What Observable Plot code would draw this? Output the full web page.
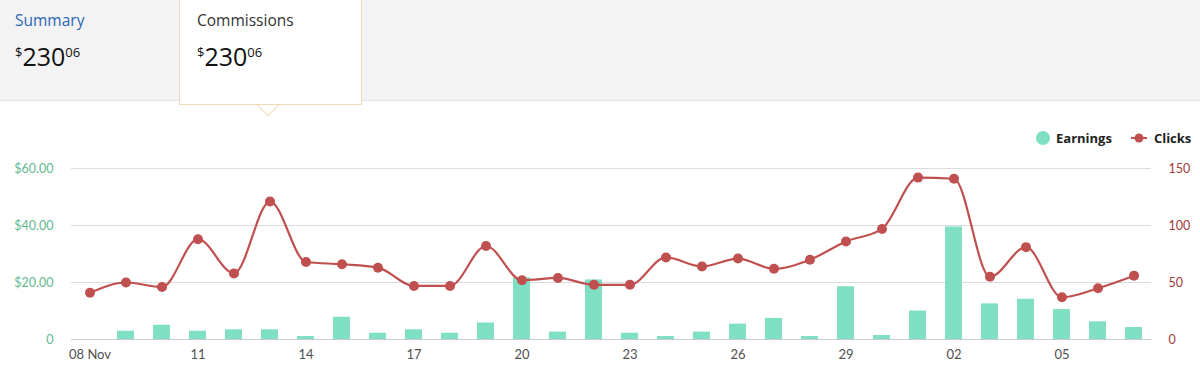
<!DOCTYPE html>
<html>
<head>
<meta charset="utf-8">
<script src="https://cdn.jsdelivr.net/npm/d3@7"></script>
<script src="https://cdn.jsdelivr.net/npm/@observablehq/plot@0.6"></script>
<style>
  html, body { margin: 0; padding: 0; background: #fff; width: 1200px; height: 385px; overflow: hidden; font-family: "Open Sans", "Noto Sans", sans-serif; }
  #header { position: absolute; left: 0; top: 0; width: 1200px; height: 100px; background: #f3f3f3; border-bottom: 1px solid #e4e4e4; }
  .title { position: absolute; font-size: 15.5px; }
  .amount { position: absolute; font-size: 25px; color: #111; line-height: 30px; }
  .amount sup { font-size: 13px; vertical-align: 0; position: relative; top: -9px; }
  #tip { position: absolute; left: 179px; top: -2px; width: 181px; height: 106px; background: #fff; border: 1px solid #ecdcb8; border-top: none; }
  #arrow { position: absolute; left: 260px; top: 97px; width: 15px; height: 15px; background: #fff; border-right: 1px solid #ecdcb8; border-bottom: 1px solid #ecdcb8; transform: rotate(45deg); }
  #legend { position: absolute; top: 129px; left: 1035px; font-size: 13px; font-weight: bold; color: #222; display: flex; align-items: center; }
  #chart { position: absolute; left: 0; top: 100px; }
</style>
</head>
<body>
<div id="header"></div>
<div class="title" style="left:15px; top:9px; color:#2a66b8;">Summary</div>
<div class="amount" style="left:15px; top:41px;"><sup>$</sup>230<sup>06</sup></div>
<div id="arrow"></div>
<div id="tip"></div>
<div class="title" style="left:197px; top:9px; color:#333;">Commissions</div>
<div class="amount" style="left:197px; top:41px;"><sup>$</sup>230<sup>06</sup></div>
<div id="legend">
  <svg width="16" height="16" style="margin-right:5px"><circle cx="8" cy="8" r="7" fill="#7fdfc3"/></svg>
  <span style="margin-right:18px">Earnings</span>
  <svg width="18" height="16" style="margin-right:6px"><line x1="1" y1="8" x2="17" y2="8" stroke="#c0504f" stroke-width="2"/><circle cx="9" cy="8" r="4.5" fill="#c0504f"/></svg>
  <span>Clicks</span>
</div>
<div id="chart"></div>
<script>
const days = ["11-08","11-09","11-10","11-11","11-12","11-13","11-14","11-15","11-16","11-17","11-18","11-19","11-20","11-21","11-22","11-23","11-24","11-25","11-26","11-27","11-28","11-29","11-30","12-01","12-02","12-03","12-04","12-05","12-06","12-07"];
const earnings = [0, 2.9, 5.0, 2.9, 3.4, 3.4, 1.05, 7.8, 2.2, 3.4, 2.2, 5.8, 21.6, 2.6, 20.9, 2.2, 1.05, 2.6, 5.4, 7.4, 1.05, 18.5, 1.4, 10.0, 39.5, 12.5, 14.1, 10.5, 6.2, 4.2];
const clicks = [41, 50, 46, 88, 58, 121, 68, 66, 63, 47, 47, 82, 52, 54, 48, 48, 72, 64, 71, 62, 70, 86, 97, 142, 141, 55, 81, 37, 45, 56];
const tickDays = ["11-08","11-11","11-14","11-17","11-20","11-23","11-26","11-29","12-02","12-05"];
const tickTexts = ["08 Nov","11","14","17","20","23","26","29","02","05"];
const earningTicks = [0, 20, 40, 60];
const earningTickTexts = ["0", "$20.00", "$40.00", "$60.00"];
const clickTicks = [0, 50, 100, 150];

const clickToY = 60 / 150;
const rows = days.map((d, i) => ({day: d, earnings: earnings[i], clicks: clicks[i], cy: clicks[i] * clickToY}));

const chart = Plot.plot({
  width: 1200,
  height: 285,
  marginLeft: 71,
  marginRight: 49,
  marginTop: 68,
  marginBottom: 46,
  style: {fontFamily: "Lato, 'Open Sans', sans-serif", fontSize: "12.5px", background: "transparent"},
  x: {type: "band", domain: days, paddingInner: 0.53, paddingOuter: 0.237},
  y: {domain: [0, 60]},
  marks: [
    Plot.gridY(earningTicks.slice(1), {stroke: "#dcdcdc", strokeOpacity: 1}),
    Plot.barY(rows, {x: "day", y: "earnings", fill: "#7fdfc3"}),
    Plot.ruleY([0], {stroke: "#c4cbd6", strokeWidth: 1.2}),
    Plot.line(rows, {x: "day", y: "cy", stroke: "#c0504f", strokeWidth: 2.2, curve: "monotone-x"}),
    Plot.dot(rows, {x: "day", y: "cy", r: 5, fill: "#c0504f"}),
    Plot.axisX(tickDays, {tickSize: 0, tickPadding: 10, fontSize: 13, tickFormat: d => tickTexts[tickDays.indexOf(d)], fill: "#505050", label: null}),
    Plot.axisY(earningTicks, {anchor: "left", tickSize: 0, tickPadding: 18, tickFormat: d => earningTickTexts[earningTicks.indexOf(d)], fill: "#5fb98f", label: null}),
    Plot.axisY(clickTicks.map(c => c * clickToY), {anchor: "right", tickSize: 0, tickPadding: 17, tickFormat: d => String(Math.round(d / clickToY)), fill: "#a03a3a", label: null})
  ]
});
document.getElementById("chart").appendChild(chart);
</script>
</body>
</html>
